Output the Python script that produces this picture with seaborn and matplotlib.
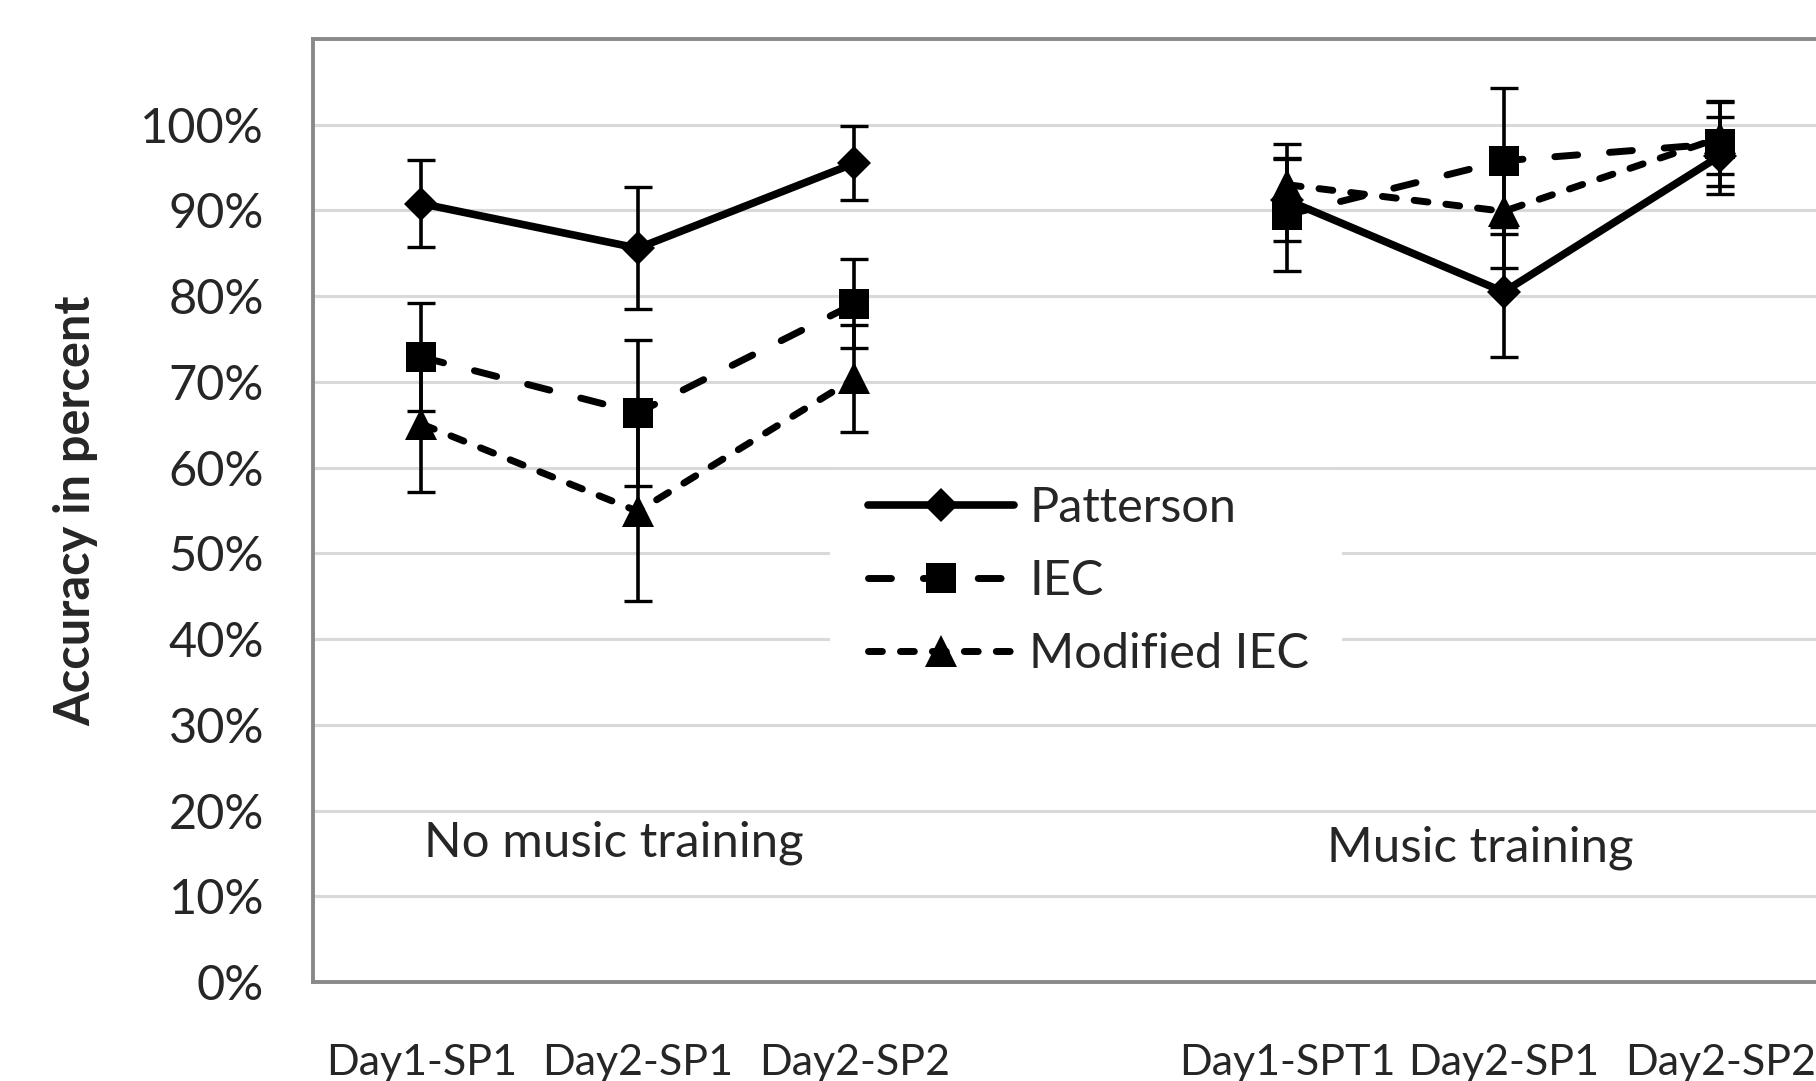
import numpy as np
import pandas as pd
import matplotlib
matplotlib.use("Agg")
import matplotlib.pyplot as plt
from matplotlib.patches import Rectangle
import seaborn as sns

# %% data (accuracy in percent, error bars are +/- half widths)
categories = ["Day1-SP1", "Day2-SP1", "Day2-SP2", "", "Day1-SPT1", "Day2-SP1", "Day2-SP2"]
group_names = ["No music training", "Music training"]
group_slots = [[0, 1, 2], [4, 5, 6]]
methods = ["Patterson", "IEC", "Modified IEC"]

patterson_no = [90.8, 85.6, 95.5]
patterson_no_err = [5.1, 7.1, 4.3]
iec_no = [72.9, 66.4, 79.1]
iec_no_err = [6.3, 8.5, 5.2]
mod_no = [65.1, 54.9, 70.4]
mod_no_err = [7.9, 10.5, 6.2]

patterson_mu = [91.2, 80.5, 96.4]
patterson_mu_err = [4.8, 7.6, 4.5]
iec_mu = [89.5, 95.8, 97.8]
iec_mu_err = [6.6, 8.5, 5.0]
mod_mu = [93.0, 89.9, 98.5]
mod_mu_err = [4.7, 6.6, 4.2]

series = {
    "Patterson": [(patterson_no, patterson_no_err), (patterson_mu, patterson_mu_err)],
    "IEC": [(iec_no, iec_no_err), (iec_mu, iec_mu_err)],
    "Modified IEC": [(mod_no, mod_no_err), (mod_mu, mod_mu_err)],
}

rows = []
for method in methods:
    for g, (vals, errs) in enumerate(series[method]):
        for slot, a, e in zip(group_slots[g], vals, errs):
            rows.append(dict(method=method, group=group_names[g], pos=slot, acc=a, err=e))
df = pd.DataFrame(rows)

# %% style
sns.set_theme(style="white")
plt.rcParams["font.family"] = ["Lato", "DejaVu Sans"]
GRAY = "#898989"

styles = {
    "Patterson": dict(linestyle="-", marker="D", markersize=17, linewidth=5.5),
    "IEC": dict(linestyle=(0, (3.3, 4.6)), marker="s", markersize=21, linewidth=5),
    "Modified IEC": dict(linestyle=(0, (2.0, 2.6)), marker="^", markersize=23, linewidth=5),
}

fig = plt.figure(figsize=(18.16, 10.81), dpi=100)
ax = fig.add_axes([0.1724, 0.0916, 0.8345, 0.8723])

handles = []
for method in methods:
    for g in group_names:
        sub = df[(df.method == method) & (df.group == g)]
        sns.lineplot(data=sub, x="pos", y="acc", ax=ax, color="black",
                     errorbar=None, estimator=None, sort=False,
                     dash_capstyle="round", solid_capstyle="round",
                     markeredgewidth=0, zorder=3, **styles[method])
        if g == group_names[0]:
            handles.append(ax.lines[-1])
        ax.errorbar(sub.pos, sub.acc, yerr=sub.err, fmt="none", ecolor="black",
                    elinewidth=2.6, capsize=10, capthick=2.4, zorder=4)

# group captions
for name, slots, yv in zip(group_names, group_slots, [16.3, 15.7]):
    ax.text(np.mean(slots) - 0.11, yv, name, ha="center", va="center", fontsize=35.5)

# axes
ax.set_xlim(-0.5, 6.5)
ax.set_ylim(0, 110)
ax.set_xticks(np.arange(-0.5, 7, 1))
ax.set_xticklabels([])
ax.set_xticks(range(len(categories)), minor=True)
ax.set_xticklabels(categories, minor=True)
ax.tick_params(axis="x", which="major", length=11.5, width=2, color=GRAY, direction="out")
ax.tick_params(axis="x", which="minor", length=0, pad=45, labelsize=31)
ax.set_yticks(range(0, 101, 10))
ax.set_yticklabels([f"{v}%" for v in range(0, 101, 10)])
ax.tick_params(axis="y", length=10.8, width=2, color=GRAY, direction="out", pad=24.5, labelsize=35)
ax.set_xlabel("")
ax.set_ylabel("Accuracy in percent", fontsize=35, fontweight="bold", va="center")
ax.yaxis.set_label_coords((76 - 313) / 1515.5, 0.5)

ax.yaxis.grid(True, color="#d9d9d9", linewidth=2.2)
ax.xaxis.grid(False)
ax.set_axisbelow(True)
for sp in ax.spines.values():
    sp.set_visible(True)
    sp.set_color(GRAY)
    sp.set_linewidth(2.8)

# legend sits on a white area that hides the gridlines
ax.add_patch(Rectangle((830 / 1816, 1 - 700 / 1081), (1342 - 830) / 1816, (700 - 470) / 1081,
                       transform=fig.transFigure, facecolor="white", edgecolor="none", zorder=1))
ax.legend(handles, methods, loc="upper left", bbox_to_anchor=(868 / 1816, 1 - 486 / 1081),
          bbox_transform=fig.transFigure, frameon=False, borderpad=0, borderaxespad=0,
          handlelength=3.0, handletextpad=0.32, labelspacing=0.6, fontsize=35)

fig.savefig("out.png", dpi=100)
